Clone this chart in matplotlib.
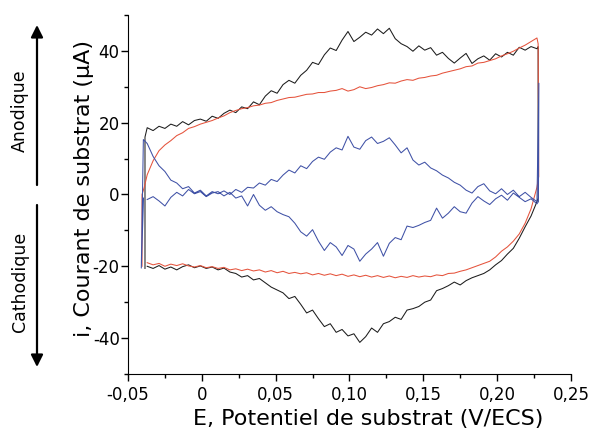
import matplotlib
matplotlib.use('Agg')
import matplotlib.pyplot as plt
from matplotlib.ticker import MultipleLocator, FuncFormatter

# Potential grid shared by every branch of the voltammograms (V/ECS).
E_scan = [-0.037, -0.033, -0.029, -0.025, -0.021, -0.017, -0.013, -0.009,
          -0.005, -0.001, 0.003, 0.007, 0.011, 0.015, 0.019, 0.023, 0.027,
          0.031, 0.035, 0.039, 0.043, 0.047, 0.051, 0.055, 0.059, 0.063,
          0.067, 0.071, 0.075, 0.079, 0.083, 0.087, 0.091, 0.095, 0.099,
          0.103, 0.107, 0.111, 0.115, 0.119, 0.123, 0.127, 0.131, 0.135,
          0.139, 0.143, 0.147, 0.151, 0.155, 0.159, 0.163, 0.167, 0.171,
          0.175, 0.179, 0.183, 0.187, 0.191, 0.195, 0.199, 0.203, 0.207,
          0.211, 0.215, 0.219, 0.223, 0.227]

# Black cycle (uA), anodic and cathodic branches read along E_scan.
black_fwd = [18.6, 17.8, 19.0, 18.4, 19.6, 19.0, 20.3, 19.4, 20.6, 21.0,
             20.4, 21.8, 21.2, 22.6, 23.5, 22.8, 24.4, 23.9, 25.8, 25.0,
             27.4, 28.9, 28.2, 30.6, 31.8, 31.0, 33.2, 34.6, 36.8, 36.2,
             38.9, 40.8, 40.1, 43.0, 45.4, 42.6, 43.8, 45.2, 44.4, 46.1,
             44.8, 46.3, 43.4, 42.0, 41.2, 39.9, 41.4, 40.2, 40.9, 38.8,
             39.6, 37.9, 36.6, 38.0, 39.3, 36.5, 37.8, 38.6, 37.4, 39.2,
             38.3, 39.6, 38.8, 41.0, 40.2, 41.2, 40.6]
black_rev = [-20.0, -20.6, -19.8, -20.8, -20.2, -21.0, -20.1, -19.6, -20.4,
             -19.9, -20.6, -20.2, -21.0, -20.5, -21.6, -22.0, -23.0, -22.6,
             -23.8, -23.4, -24.6, -25.8, -26.6, -27.4, -29.0, -28.4, -30.6,
             -33.0, -32.2, -34.6, -36.8, -36.0, -38.4, -37.6, -39.4, -38.8,
             -41.2, -39.6, -37.2, -38.4, -36.0, -35.4, -34.2, -34.8, -32.2,
             -31.8, -31.2, -30.0, -29.4, -26.8, -26.2, -25.4, -24.4, -25.2,
             -24.0, -23.2, -22.6, -22.0, -21.0, -19.6, -18.4, -16.6, -15.0,
             -12.2, -9.0, -6.0, -2.0]

# Red cycle (uA)
red_fwd = [5.5, 9.4, 12.2, 13.8, 15.0, 16.4, 17.2, 18.4, 18.9, 19.6, 20.1,
           20.6, 21.3, 21.9, 22.8, 23.4, 23.9, 24.2, 24.7, 24.9, 25.4, 25.6,
           26.2, 26.6, 27.0, 27.1, 27.5, 27.9, 28.0, 28.4, 28.4, 28.8, 29.0,
           29.5, 28.8, 29.2, 30.0, 29.5, 29.8, 30.3, 30.6, 31.1, 31.0, 31.6,
           32.0, 31.8, 32.4, 32.6, 33.0, 33.2, 33.8, 34.2, 34.6, 35.0, 35.6,
           35.8, 36.6, 36.8, 37.3, 37.8, 38.6, 39.2, 39.9, 40.8, 41.6, 42.6,
           43.6]
red_rev = [-19.0, -19.6, -19.2, -20.0, -19.4, -19.8, -19.3, -19.9, -20.2,
           -19.8, -20.4, -20.1, -20.6, -20.3, -21.0, -20.7, -21.2, -20.8,
           -21.3, -21.0, -21.6, -21.2, -21.8, -21.4, -22.0, -21.7, -22.1,
           -21.8, -22.4, -22.0, -22.5, -22.1, -22.6, -22.2, -22.8, -22.4,
           -22.9, -22.5, -23.0, -22.6, -23.1, -22.7, -23.2, -22.8, -23.1,
           -22.6, -23.0, -22.7, -22.9, -22.4, -22.6, -22.0, -21.9, -21.4,
           -21.0, -20.4, -19.8, -19.2, -18.6, -17.4, -15.8, -14.6, -13.0,
           -11.0, -8.0, -4.0, 2.0]

# Blue cycle (uA)
blue_fwd = [14.2, 10.6, 8.0, 6.4, 4.0, 3.2, 1.6, 2.2, 0.4, 1.2, -0.4, 0.8,
            0.2, 1.0, 0.0, 1.4, 0.6, 2.0, 1.8, 3.2, 2.6, 4.2, 3.6, 5.4, 6.8,
            6.0, 8.0, 7.2, 9.2, 10.4, 9.8, 11.8, 13.0, 12.4, 16.2, 13.2,
            12.6, 15.0, 16.0, 14.2, 14.8, 15.8, 13.8, 11.6, 13.0, 9.6, 8.2,
            9.0, 7.4, 6.6, 5.4, 4.6, 3.4, 2.6, 1.2, 0.4, 2.2, 3.0, 1.0, 0.2,
            1.6, 0.0, 1.2, -0.6, 0.6, -0.8, -2.0]
blue_rev = [-1.4, -0.6, -1.8, -3.2, -0.8, 0.6, -0.4, 1.4, 0.2, 0.8, -0.6,
            0.4, 0.8, -0.4, 0.6, -1.0, -0.4, -3.2, 0.0, -3.0, -4.4, -3.4,
            -4.8, -5.6, -6.2, -8.0, -10.4, -11.6, -9.8, -13.0, -15.6, -13.4,
            -14.6, -17.0, -14.2, -15.2, -18.6, -16.6, -15.2, -13.4, -17.2,
            -13.6, -12.0, -12.6, -8.8, -9.2, -8.6, -7.8, -7.2, -3.8, -6.6,
            -5.2, -3.4, -4.8, -5.2, -2.4, -0.6, -1.8, -2.8, -1.2, -0.2, -1.6,
            0.4, -0.8, -2.0, -1.2, -2.6]

# Potential-switching segments at both ends of each cycle (E, i).
black_left_E, black_left_i = [-0.0385, -0.0385], [-20.6, 16.0]
black_right_E, black_right_i = [0.2278, 0.2278], [41.2, -1.0]
red_left_E, red_left_i = [-0.0405, -0.0405, -0.039], [-20.0, 0.0, 2.0]
red_right_E, red_right_i = [0.2278, 0.2282], [42.0, 5.0]
blue_left_E, blue_left_i = [-0.0395, -0.041, -0.0396], [-1.0, -20.5, 15.3]
blue_right_E, blue_right_i = [0.2283, 0.2280], [31.0, -2.0]


def closed_cycle(fwd, rev, left_E, left_i, right_E, right_i):
    E = list(left_E) + E_scan + list(right_E) + E_scan[::-1]
    i = list(left_i) + list(fwd) + list(right_i) + list(rev)[::-1]
    return E, i


fig = plt.figure(figsize=(5.91, 4.28), dpi=100)
ax = fig.add_axes([0.2166, 0.1262, 0.7494, 0.8388])

cycles = [
    (black_fwd, black_rev, black_left_E, black_left_i, black_right_E, black_right_i, '#1c1c1c'),
    (red_fwd, red_rev, red_left_E, red_left_i, red_right_E, red_right_i, '#e5533c'),
    (blue_fwd, blue_rev, blue_left_E, blue_left_i, blue_right_E, blue_right_i, '#3f51a6'),
]
for fwd, rev, lE, li, rE, ri, col in cycles:
    E, i = closed_cycle(fwd, rev, lE, li, rE, ri)
    ax.plot(E, i, color=col, lw=0.75)

ax.set_xlim(-0.05, 0.25)
ax.set_ylim(-50, 50)
ax.spines['top'].set_visible(False)
ax.spines['right'].set_visible(False)
ax.xaxis.set_major_locator(MultipleLocator(0.05))
ax.xaxis.set_minor_locator(MultipleLocator(0.025))
ax.yaxis.set_major_locator(MultipleLocator(20))
ax.yaxis.set_minor_locator(MultipleLocator(10))


def comma_x(v, pos):
    if abs(v) < 1e-9:
        return '0'
    return ('%.2f' % v).replace('.', ',')


ax.xaxis.set_major_formatter(FuncFormatter(comma_x))
ax.yaxis.set_major_formatter(FuncFormatter(lambda v, pos: '%d' % round(v)))
ax.tick_params(which='major', direction='out', length=5, width=1, labelsize=12)
ax.tick_params(axis='y', which='major', pad=1)
ax.tick_params(which='minor', direction='out', length=3, width=1)

ax.set_xlabel('E, Potentiel de substrat (V/ECS)', fontsize=16)
ax.set_ylabel('i, Courant de substrat (μA)', fontsize=16)
ax.xaxis.set_label_coords(0.542, -0.097)
ax.yaxis.set_label_coords(-0.076, 0.517)

# Anodic / cathodic arrows on the left.
ax.annotate('', xy=(37 / 591, 1 - 25 / 428), xytext=(37 / 591, 1 - 185 / 428),
            xycoords='figure fraction', textcoords='figure fraction',
            arrowprops=dict(arrowstyle='-|>', color='black', lw=1.6,
                            mutation_scale=18, shrinkA=0, shrinkB=0))
ax.annotate('', xy=(37 / 591, 1 - 367 / 428), xytext=(37 / 591, 1 - 205 / 428),
            xycoords='figure fraction', textcoords='figure fraction',
            arrowprops=dict(arrowstyle='-|>', color='black', lw=1.6,
                            mutation_scale=18, shrinkA=0, shrinkB=0))
fig.text(20 / 591, 1 - 111 / 428, 'Anodique', rotation=90, fontsize=12.5,
         ha='center', va='center')
fig.text(20 / 591, 1 - 282 / 428, 'Cathodique', rotation=90, fontsize=12.5,
         ha='center', va='center')

plt.savefig('out.png', dpi=100)
